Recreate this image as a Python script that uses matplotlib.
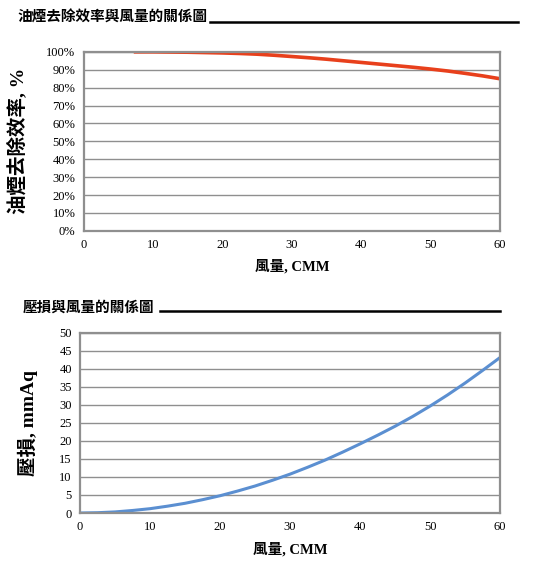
import matplotlib
matplotlib.use("Agg")
import matplotlib.pyplot as plt
from matplotlib.lines import Line2D
from matplotlib.ticker import FuncFormatter

# values
eff_flow = [7.2, 10, 12.5, 15, 17.5, 20, 22.5, 25, 27.5, 30, 32.5, 35, 37.5,
            40, 42.5, 45, 47.5, 50, 52.5, 55, 57.5, 60]
eff_pct = [100, 100, 99.9, 99.8, 99.6, 99.4, 99.1, 98.7, 98.1, 97.4, 96.7, 95.9, 95.0,
           94.1, 93.2, 92.3, 91.4, 90.4, 89.3, 88.0, 86.6, 85.0]

dp_flow = [0, 2.5, 5, 7.5, 10, 12.5, 15, 17.5, 20, 22.5, 25, 27.5, 30, 32.5,
           35, 37.5, 40, 42.5, 45, 47.5, 50, 52.5, 55, 57.5, 60]
dp_mmaq = [0, 0.08, 0.3, 0.7, 1.2, 1.9, 2.7, 3.7, 4.8, 6.1, 7.5, 9.1, 10.8, 12.7,
           14.7, 16.9, 19.2, 21.6, 24.1, 26.8, 29.7, 32.8, 36.1, 39.6, 43.2]

x_ticks = [0, 10, 20, 30, 40, 50, 60]
eff_ticks = [0, 10, 20, 30, 40, 50, 60, 70, 80, 90, 100]
dp_ticks = [0, 5, 10, 15, 20, 25, 30, 35, 40, 45, 50]

title_top = "油煙去除效率與風量的關係圖"
title_bottom = "壓損與風量的關係圖"
xlabel = "風量, CMM"
ylabel_top = "油煙去除效率, %"
ylabel_bottom = "壓損, mmAq"

FAM = ["Liberation Serif", "Noto Sans CJK TC"]
GRID = "#8f8f8f"

fig = plt.figure(figsize=(5.34, 5.7), dpi=100)


def style_axes(ax, yticks):
    ax.set_xlim(0, 60)
    ax.set_ylim(yticks[0], yticks[-1])
    ax.set_xticks(x_ticks)
    ax.set_yticks(yticks)
    ax.tick_params(length=0, labelsize=9, pad=6)
    for lab in ax.get_xticklabels() + ax.get_yticklabels():
        lab.set_family(FAM)
    ax.grid(axis="y", color=GRID, linewidth=1)
    ax.set_axisbelow(True)
    for sp in ax.spines.values():
        sp.set_color(GRID)
        sp.set_linewidth(1.6)


# top chart
ax1 = fig.add_axes([0.157, 0.595, 0.779, 0.314])
ax1.plot(eff_flow, eff_pct, color="#e8401c", linewidth=2.6, solid_capstyle="butt")
style_axes(ax1, eff_ticks)
ax1.yaxis.set_major_formatter(FuncFormatter(lambda v, p: f"{v:.0f}%"))
ax1.set_xlabel(xlabel, family=FAM, fontsize=10.5, fontweight="bold", labelpad=6)
ax1.set_ylabel(ylabel_top, family=FAM, fontsize=14, fontweight="bold")
ax1.yaxis.set_label_coords(-0.135, 0.5)

# bottom chart
ax2 = fig.add_axes([0.150, 0.100, 0.7865, 0.3158])
ax2.plot(dp_flow, dp_mmaq, color="#5b8fd1", linewidth=2.2)
style_axes(ax2, dp_ticks)
ax2.set_xlabel(xlabel, family=FAM, fontsize=10.5, fontweight="bold", labelpad=6)
ax2.set_ylabel(ylabel_bottom, family=FAM, fontsize=14, fontweight="bold")
ax2.yaxis.set_label_coords(-0.1, 0.5)

# section headings with rule
fig.text(0.032, 0.970, title_top, family=FAM, fontsize=10.5, fontweight="bold", va="center")
fig.add_artist(Line2D([0.393, 0.970], [0.9614, 0.9614], color="black", linewidth=1.8))
fig.text(0.043, 0.4596, title_bottom, family=FAM, fontsize=10.5, fontweight="bold", va="center")
fig.add_artist(Line2D([0.300, 0.936], [0.4549, 0.4549], color="black", linewidth=1.8))

fig.savefig("out.png", dpi=100)
